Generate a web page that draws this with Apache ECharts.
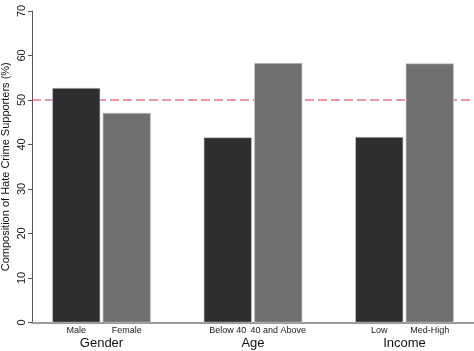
<!DOCTYPE html>
<html>
<head>
<meta charset="utf-8">
<script src="https://cdn.jsdelivr.net/npm/echarts@6/dist/echarts.min.js"></script>
<style>
	html, body { margin: 0; padding: 0; background: #fff; }
	#chart { width: 474px; height: 351px; }
</style>
</head>
<body>
<div id="chart"></div>
<script>
// bars in reading order, blanks separate the groups
const categories = ["Male", "Female", "", "Below 40", "40 and Above", "", "Low", "Med-High"];
const values = [52.7, 47.1, null, 41.6, 58.3, null, 41.7, 58.2];
const barColors = ["#2e2e2e", "#6f6f6f", null, "#2e2e2e", "#6f6f6f", null, "#2e2e2e", "#6f6f6f"];
const groups = ["Gender", "Age", "Income"];
const groupSlots = [2, 8, 14]; // centre of each group on a half-slot scale
const threshold = 50;
const yTicks = [0, 10, 20, 30, 40, 50, 60, 70];

const font = "Liberation Sans, Arial, sans-serif";

// half-slot axis used only for the group titles
const groupAxis = new Array(categories.length * 2 + 1).fill("");
groupSlots.forEach((s, i) => { groupAxis[s] = groups[i]; });

const chart = echarts.init(document.getElementById("chart"), null, { renderer: "canvas" });

chart.setOption({
	animation: false,
	grid: [
		{ left: 32, right: 0, top: 11, bottom: 28.5, outerBoundsMode: "none" },   // frame: axes + reference line
		{ left: 51, right: 19, top: 11, bottom: 28.5, outerBoundsMode: "none" }   // bars
	],
	xAxis: [
		{
			gridIndex: 0, type: "category", data: ["", ""], boundaryGap: false,
			axisLine: { lineStyle: { color: "#9a9a9a", width: 2 } },
			axisTick: { show: false }, axisLabel: { show: false }, splitLine: { show: false }
		},
		{
			gridIndex: 1, type: "category", data: categories, position: "bottom",
			axisLine: { show: false }, axisTick: { show: false },
			axisLabel: { interval: 0, color: "#222", fontFamily: font, fontSize: 9, margin: 4 }
		},
		{
			gridIndex: 1, type: "category", data: groupAxis, boundaryGap: false, position: "bottom",
			axisLine: { show: false }, axisTick: { show: false },
			axisLabel: { interval: 0, color: "#111", fontFamily: font, fontSize: 13, margin: 14 }
		}
	],
	yAxis: [
		{
			gridIndex: 0, type: "value", min: yTicks[0], max: yTicks[yTicks.length - 1], interval: 10,
			name: "Composition of Hate Crime Supporters (%)",
			nameLocation: "middle", nameGap: 21, nameMoveOverlap: false,
			nameTextStyle: { color: "#111", fontFamily: font, fontSize: 11 },
			axisLine: { show: true, lineStyle: { color: "#555", width: 1 } },
			axisTick: { show: true, length: 4, lineStyle: { color: "#555" } },
			axisLabel: { rotate: 90, color: "#222", fontFamily: font, fontSize: 11, margin: 5 },
			splitLine: { show: false }
		},
		{
			gridIndex: 1, type: "value", min: yTicks[0], max: yTicks[yTicks.length - 1], interval: 10,
			show: false, splitLine: { show: false }
		}
	],
	series: [
		{
			type: "line", xAxisIndex: 0, yAxisIndex: 0, z: 1,
			data: [threshold, threshold], symbol: "none", silent: true,
			lineStyle: { color: "#d8334a", width: 1.2, type: [9, 4] }
		},
		{
			type: "bar", xAxisIndex: 1, yAxisIndex: 1, z: 5,
			barWidth: 48,
			data: values.map((v, i) => v == null ? null : {
				value: v,
				itemStyle: { color: barColors[i], borderColor: "#c8c8c8", borderWidth: 0.6 }
			})
		},
		{
			// carries the group-title axis
			type: "line", xAxisIndex: 2, yAxisIndex: 1, data: [], silent: true
		}
	]
});
</script>
</body>
</html>
